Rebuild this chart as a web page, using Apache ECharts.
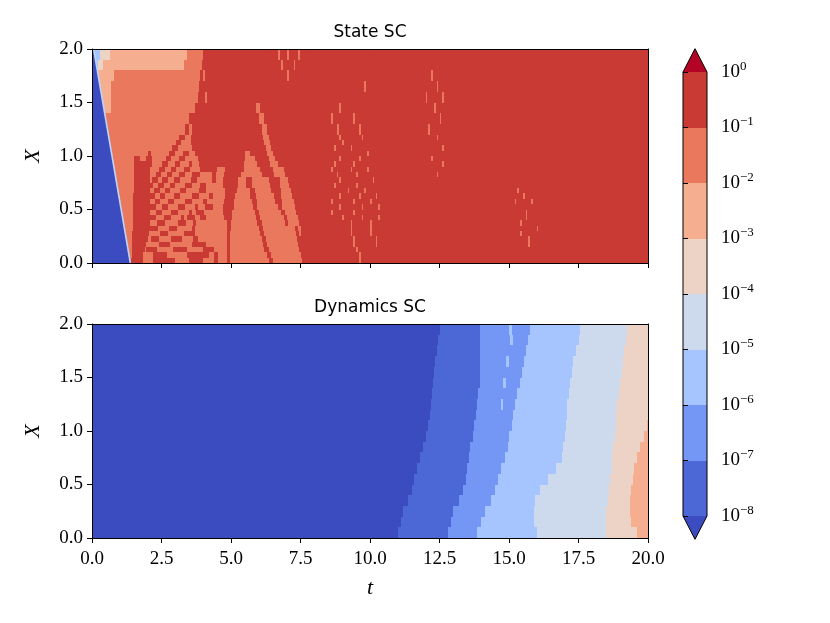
<!DOCTYPE html>
<html>
<head>
<meta charset="utf-8">
<script src="https://cdn.jsdelivr.net/npm/echarts@6/dist/echarts.min.js"></script>
<style>
  html, body { margin: 0; background: #fff; }
  #chart { width: 830px; height: 623px; }
</style>
</head>
<body>
<div id="chart"></div>
<script>
// contour level exponents (10^n) and the coolwarm band colours
// level index: 0 = below 1e-8 (extend), 1..8 = bands, 9 = above 1e0 (extend)
const levelExps = [-8, -7, -6, -5, -4, -3, -2, -1, 0];
const palette = ["#3b4cc0", "#4c67d6", "#7497f5", "#a6c4fe", "#cdd9ec",
                 "#ecd3c5", "#f5ae8f", "#e9785d", "#c93a35", "#b40426"];
const tTicks = [0, 2.5, 5, 7.5, 10, 12.5, 15, 17.5, 20];
const xTicks = [0, 0.5, 1, 1.5, 2];

// "State SC": left blue wedge, edge from (t, X) top point to bottom point
const stateUnderEdge = [0.06, 2.0, 1.38, 0.0];
// row edges in X (top to bottom); each row = list of [t where run ends, level]
const stateRowEdges = [2.0, 1.9, 1.8, 1.7, 1.6, 1.5, 1.4, 1.3, 1.2, 1.15, 1.1, 1.05, 1.0,
  0.95, 0.9, 0.85, 0.8, 0.75, 0.7, 0.65, 0.6, 0.55, 0.5, 0.45, 0.4, 0.35, 0.3,
  0.25, 0.2, 0.15, 0.1, 0.05, 0.0];
const stateRows = [
  [[0.3,3],[0.65,5],[3.4,6],[4.0,7],[6.7,8],[6.78,7],[7.0,8],[7.07,7],[7.4,8],[7.47,7],[20,8]],
  [[0.2,3],[0.4,5],[3.3,6],[3.95,7],[6.8,8],[6.87,7],[7.25,8],[7.32,7],[20,8]],
  [[0.8,6],[3.9,7],[4.0,8],[4.08,7],[7.0,8],[7.07,7],[12.2,8],[12.26,7],[20,8]],
  [[0.7,6],[3.85,7],[9.8,8],[9.86,7],[12.4,8],[12.46,7],[20,8]],
  [[0.7,6],[3.8,7],[4.05,8],[4.12,7],[12.0,8],[12.06,7],[12.6,8],[12.66,7],[20,8]],
  [[0.68,6],[3.7,7],[5.9,8],[6.05,7],[8.9,8],[8.96,7],[12.3,8],[12.36,7],[20,8]],
  [[3.5,7],[6.0,8],[6.2,7],[8.6,8],[8.67,7],[9.4,8],[9.46,7],[12.5,8],[12.56,7],[20,8]],
  [[3.35,7],[3.5,8],[3.6,7],[6.1,8],[6.3,7],[8.8,8],[8.87,7],[9.6,8],[9.66,7],[12.1,8],[12.16,7],[20,8]],
  [[3.13,7],[3.33,8],[3.55,7],[6.15,8],[6.35,7],[8.9,8],[8.96,7],[9.7,8],[9.76,7],[12.4,8],[12.46,7],[20,8]],
  [[3.01,7],[3.21,8],[3.55,7],[6.2,8],[6.4,7],[9.0,8],[9.06,7],[20,8]],
  [[2.89,7],[3.09,8],[3.6,7],[6.25,8],[6.45,7],[8.7,8],[8.76,7],[9.3,8],[9.36,7],[12.6,8],[12.66,7],[20,8]],
  [[2.0,7],[2.12,8],[2.77,7],[2.97,8],[3.28,7],[3.48,8],[3.7,7],[5.5,8],[5.7,7],[6.3,8],[6.5,7],[9.9,8],[9.96,7],[20,8]],
  [[1.5,7],[1.72,8],[1.95,7],[2.15,8],[2.65,7],[2.85,8],[3.13,7],[3.33,8],[3.8,7],[5.5,8],[5.85,7],[6.35,8],[6.6,7],[8.9,8],[8.96,7],[9.6,8],[9.66,7],[12.2,8],[12.26,7],[20,8]],
  [[1.5,7],[2.15,8],[2.53,7],[2.73,8],[2.98,7],[3.18,8],[3.5,7],[3.6,8],[3.85,7],[5.45,8],[5.95,7],[6.4,8],[6.7,7],[8.7,8],[8.76,7],[9.4,8],[9.46,7],[12.6,8],[12.66,7],[20,8]],
  [[1.5,7],[2.1,8],[2.41,7],[2.61,8],[2.83,7],[3.03,8],[3.31,7],[3.51,8],[3.9,7],[4.5,8],[4.8,7],[5.45,8],[6.05,7],[6.5,8],[6.9,7],[8.6,8],[8.66,7],[9.3,8],[9.36,7],[9.9,8],[9.96,7],[20,8]],
  [[1.5,7],[2.1,8],[2.29,7],[2.49,8],[2.68,7],[2.88,8],[3.14,7],[3.34,8],[3.6,7],[3.9,8],[4.3,7],[4.45,8],[4.75,7],[5.35,8],[6.1,7],[6.55,8],[6.95,7],[8.8,8],[8.86,7],[9.5,8],[9.56,7],[12.4,8],[12.46,7],[20,8]],
  [[1.5,7],[2.1,8],[2.17,7],[2.37,8],[2.53,7],[2.73,8],[2.96,7],[3.16,8],[3.57,7],[3.79,8],[4.3,7],[4.45,8],[4.7,7],[5.25,8],[5.55,7],[5.75,8],[6.35,7],[6.75,8],[7.05,7],[8.9,8],[8.96,7],[10.1,8],[10.16,7],[20,8]],
  [[1.5,7],[2.2,8],[2.38,7],[2.58,8],[2.79,7],[2.99,8],[3.36,7],[3.58,8],[3.9,7],[4.1,8],[4.7,7],[5.25,8],[5.55,7],[5.75,8],[6.4,7],[6.75,8],[7.1,7],[8.7,8],[8.76,7],[9.5,8],[9.56,7],[20,8]],
  [[1.5,7],[2.1,8],[2.23,7],[2.43,8],[2.61,7],[2.81,8],[3.15,7],[3.37,8],[3.85,7],[4.1,8],[4.8,7],[5.2,8],[5.7,7],[5.85,8],[6.45,7],[6.8,8],[7.15,7],[9.2,8],[9.26,7],[9.8,8],[9.86,7],[15.3,8],[15.36,7],[20,8]],
  [[1.49,7],[2.28,8],[2.44,7],[2.64,8],[2.94,7],[3.16,8],[3.6,7],[3.86,8],[4.2,7],[4.35,8],[4.8,7],[5.15,8],[5.7,7],[5.9,8],[6.55,7],[6.8,8],[7.2,7],[8.9,8],[8.96,7],[9.6,8],[9.66,7],[10.2,8],[10.26,7],[15.5,8],[15.56,7],[20,8]],
  [[1.49,7],[2.1,8],[2.26,7],[2.46,8],[2.73,7],[2.95,8],[3.36,7],[3.6,8],[4.0,7],[4.15,8],[4.75,7],[5.1,8],[5.75,7],[5.92,8],[6.6,7],[6.82,8],[7.25,7],[8.6,8],[8.66,7],[9.4,8],[9.46,7],[10.0,8],[10.06,7],[15.2,8],[15.26,7],[15.8,8],[15.86,7],[20,8]],
  [[1.48,7],[2.29,8],[2.52,7],[2.74,8],[3.1,7],[3.36,8],[3.7,7],[3.8,8],[4.06,7],[4.36,8],[4.7,7],[5.1,8],[5.8,7],[5.95,8],[6.7,7],[6.85,8],[7.3,7],[8.9,8],[8.96,7],[9.7,8],[9.76,7],[10.3,8],[10.36,7],[20,8]],
  [[1.48,7],[2.1,8],[2.31,7],[2.53,8],[2.85,7],[3.1,8],[3.5,7],[3.6,8],[3.74,7],[4.04,8],[4.7,7],[5.05,8],[5.85,7],[6.0,8],[6.8,7],[6.93,8],[7.35,7],[8.6,8],[8.66,7],[9.4,8],[9.46,7],[15.6,8],[15.66,7],[20,8]],
  [[1.47,7],[2.32,8],[2.6,7],[2.85,8],[3.2,7],[3.3,8],[3.41,7],[3.71,8],[3.9,7],[4.1,8],[4.75,7],[5.05,8],[5.9,7],[6.05,8],[6.9,7],[7.0,8],[7.4,7],[9.0,8],[9.06,7],[9.7,8],[9.76,7],[10.3,8],[10.36,7],[15.6,8],[15.66,7],[20,8]],
  [[1.46,7],[2.1,8],[2.35,7],[2.61,8],[3.09,7],[3.39,8],[3.65,7],[3.75,8],[4.85,7],[5.0,8],[5.95,7],[6.1,8],[6.95,7],[7.05,8],[7.45,7],[9.3,8],[9.36,7],[10.0,8],[10.06,7],[15.4,8],[15.46,7],[20,8]],
  [[1.46,7],[2.36,8],[2.76,7],[3.06,8],[3.6,7],[3.7,8],[4.85,7],[5.0,8],[6.0,7],[6.15,8],[7.3,7],[7.4,8],[7.5,7],[9.3,8],[9.36,7],[10.0,8],[10.06,7],[16.0,8],[16.06,7],[20,8]],
  [[1.45,7],[2.05,8],[2.44,7],[2.74,8],[3.3,7],[3.7,8],[4.85,7],[4.95,8],[6.05,7],[6.2,8],[7.35,7],[7.45,8],[7.52,7],[9.3,8],[9.36,7],[10.0,8],[10.06,7],[15.4,8],[15.46,7],[20,8]],
  [[1.45,7],[2.0,8],[2.11,7],[2.41,8],[2.85,7],[3.25,8],[3.65,7],[3.8,8],[4.85,7],[4.95,8],[6.1,7],[6.25,8],[7.38,7],[9.4,8],[9.46,7],[10.2,8],[10.26,7],[15.7,8],[15.76,7],[20,8]],
  [[1.45,7],[1.95,8],[2.4,7],[2.8,8],[3.6,7],[4.1,8],[4.85,7],[4.95,8],[6.15,7],[6.3,8],[7.4,7],[9.4,8],[9.46,7],[10.2,8],[10.26,7],[15.7,8],[15.76,7],[20,8]],
  [[1.45,7],[1.9,8],[1.95,7],[2.35,8],[2.9,7],[3.4,8],[4.0,7],[4.4,8],[4.85,7],[4.95,8],[6.2,7],[6.35,8],[7.45,7],[9.5,8],[9.56,7],[20,8]],
  [[1.45,7],[1.85,8],[2.2,7],[2.7,8],[3.4,7],[4.2,8],[4.4,7],[4.55,8],[4.85,7],[4.95,8],[6.3,7],[6.45,8],[7.5,7],[9.6,8],[9.66,7],[20,8]],
  [[1.42,7],[1.85,8],[2.2,7],[3.0,8],[3.5,7],[4.0,8],[4.4,7],[4.55,8],[4.85,7],[4.95,8],[6.35,7],[6.5,8],[7.55,7],[9.6,8],[9.66,7],[20,8]]
];

// "Dynamics SC", same layout
const dynamicsRowEdges = [2.0, 1.9, 1.8, 1.7, 1.6, 1.5, 1.4, 1.3, 1.2, 1.1, 1.0,
  0.9, 0.8, 0.7, 0.6, 0.5, 0.4, 0.3, 0.2, 0.1, 0.0];
const dynamicsRows = [
  [[12.5,0],[13.96,1],[15.0,2],[15.1,3],[15.75,2],[17.55,3],[19.25,4],[20,5]],
  [[12.45,0],[13.96,1],[15.05,2],[15.15,3],[15.7,2],[17.5,3],[19.2,4],[20,5]],
  [[12.4,0],[13.95,1],[15.6,2],[17.4,3],[19.15,4],[20,5]],
  [[12.35,0],[13.95,1],[14.9,2],[15.0,3],[15.55,2],[17.3,3],[19.1,4],[20,5]],
  [[12.3,0],[13.95,1],[15.45,2],[17.25,3],[19.05,4],[20,5]],
  [[12.25,0],[13.95,1],[14.8,2],[14.9,3],[15.4,2],[17.2,3],[19.0,4],[20,5]],
  [[12.22,0],[13.9,1],[15.3,2],[17.15,3],[18.95,4],[20,5]],
  [[12.2,0],[13.85,1],[14.7,2],[14.8,3],[15.2,2],[17.1,3],[18.9,4],[20,5]],
  [[12.16,0],[13.8,1],[15.15,2],[17.1,3],[18.85,4],[20,5]],
  [[12.1,0],[13.75,1],[15.1,2],[17.05,3],[18.85,4],[19.95,5],[20,6]],
  [[12.0,0],[13.7,1],[15.0,2],[17.0,3],[18.8,4],[19.85,5],[20,6]],
  [[11.9,0],[13.6,1],[14.95,2],[16.95,3],[18.75,4],[19.7,5],[20,6]],
  [[11.8,0],[13.55,1],[14.85,2],[16.9,3],[18.7,4],[19.6,5],[20,6]],
  [[11.7,0],[13.5,1],[14.7,2],[16.7,3],[18.7,4],[19.5,5],[20,6]],
  [[11.6,0],[13.45,1],[14.6,2],[16.4,3],[18.65,4],[19.45,5],[20,6]],
  [[11.5,0],[13.35,1],[14.5,2],[16.1,3],[18.6,4],[19.4,5],[20,6]],
  [[11.35,0],[13.2,1],[14.35,2],[15.95,3],[18.55,4],[19.35,5],[20,6]],
  [[11.2,0],[13.0,1],[14.15,2],[15.9,3],[18.5,4],[19.35,5],[20,6]],
  [[11.1,0],[12.9,1],[14.0,2],[15.9,3],[18.5,4],[19.4,5],[20,6]],
  [[11.0,0],[12.8,1],[13.85,2],[16.0,3],[18.5,4],[19.6,5],[20,6]]
];

const CB_EXT = 0.42; // length of the colorbar end triangles, in decades
const serif = '"Liberation Serif", "DejaVu Serif", serif';

// runs -> [t0, t1, xLo, xHi, level]
function toCells(rows, edges) {
  const cells = [];
  rows.forEach((runs, i) => {
    let t0 = 0;
    runs.forEach(([t1, lvl]) => {
      cells.push([t0, t1, edges[i + 1], edges[i], lvl]);
      t0 = t1;
    });
  });
  return cells;
}

function renderCell(params, api) {
  const a = api.coord([api.value(0), api.value(3)]);
  const b = api.coord([api.value(1), api.value(2)]);
  const x0 = Math.round(a[0]), x1 = Math.round(b[0]);
  const y0 = Math.round(a[1]), y1 = Math.round(b[1]);
  return {
    type: "rect",
    shape: { x: x0, y: y0, width: x1 - x0, height: y1 - y0 },
    style: { fill: palette[api.value(4)] },
  };
}

function renderUnder(params, api) {
  const top = api.coord([api.value(0), api.value(1)]);
  const bot = api.coord([api.value(2), api.value(3)]);
  const tl = api.coord([tTicks[0], api.value(1)]);
  const bl = api.coord([tTicks[0], api.value(3)]);
  return {
    type: "group",
    children: [
      { type: "polygon", shape: { points: [tl, top, bot, bl] }, style: { fill: palette[0] } },
      { type: "line", shape: { x1: top[0], y1: top[1], x2: bot[0], y2: bot[1] },
        style: { stroke: "#bed3f6", lineWidth: 1.6 } },
    ],
  };
}

// colorbar bands: [lowExp, highExp, level]
const cbBands = [[levelExps[0] - CB_EXT, levelExps[0], 0]];
for (let i = 0; i < levelExps.length - 1; i++) {
  cbBands.push([levelExps[i], levelExps[i + 1], i + 1]);
}
cbBands.push([levelExps[levelExps.length - 1], levelExps[levelExps.length - 1] + CB_EXT, 9]);

function renderBand(params, api) {
  const lo = api.value(0), hi = api.value(1), lvl = api.value(2);
  const fill = palette[lvl];
  if (lvl === 0) {
    return { type: "polygon", shape: { points: [api.coord([0, hi]), api.coord([1, hi]), api.coord([0.5, lo])] }, style: { fill } };
  }
  if (lvl === 9) {
    return { type: "polygon", shape: { points: [api.coord([0, lo]), api.coord([1, lo]), api.coord([0.5, hi])] }, style: { fill } };
  }
  const a = api.coord([0, hi]), b = api.coord([1, lo]);
  return {
    type: "rect",
    shape: { x: a[0], y: Math.round(a[1]), width: b[0] - a[0], height: Math.round(b[1]) - Math.round(a[1]) },
    style: { fill },
  };
}

function renderOutline(params, api) {
  const lo = levelExps[0], hi = levelExps[levelExps.length - 1];
  return {
    type: "polygon",
    shape: { points: [api.coord([0, lo]), api.coord([0.5, lo - CB_EXT]), api.coord([1, lo]),
                      api.coord([1, hi]), api.coord([0.5, hi + CB_EXT]), api.coord([0, hi])] },
    style: { fill: null, stroke: "#000", lineWidth: 1 },
  };
}

const frameLine = { show: true, onZero: false, lineStyle: { color: "#000", width: 1 } };
const tickStyle = { show: true, inside: false, length: 5, lineStyle: { color: "#000", width: 1 } };

function tAxis(gridIndex, position, withLabels) {
  return {
    type: "value", gridIndex, position, min: tTicks[0], max: tTicks[tTicks.length - 1],
    interval: tTicks[1] - tTicks[0], z: 10,
    axisLine: frameLine,
    axisTick: position === "bottom" ? tickStyle : { show: false },
    axisLabel: { show: withLabels, margin: 12, color: "#000", fontFamily: serif, fontSize: 19,
                 formatter: (v) => v.toFixed(1) },
    splitLine: { show: false },
  };
}
function xAxisY(gridIndex, position) {
  return {
    type: "value", gridIndex, position, min: xTicks[0], max: xTicks[xTicks.length - 1],
    interval: xTicks[1] - xTicks[0], z: 10,
    axisLine: frameLine,
    axisTick: position === "left" ? tickStyle : { show: false },
    axisLabel: { show: position === "left", margin: 9, color: "#000", fontFamily: serif, fontSize: 19,
                 formatter: (v) => v.toFixed(1) },
    splitLine: { show: false },
  };
}

const chart = echarts.init(document.getElementById("chart"));
chart.setOption({
  animation: false,
  backgroundColor: "#fff",
  grid: [
    { left: 92, top: 49, width: 556, height: 214 },
    { left: 92, top: 324, width: 556, height: 214 },
    { left: 683, top: 72, width: 24, height: 444 },
  ],
  xAxis: [
    tAxis(0, "bottom", false),
    tAxis(0, "top", false),
    tAxis(1, "bottom", true),
    tAxis(1, "top", false),
    { type: "value", gridIndex: 2, min: 0, max: 1, show: false },
  ],
  yAxis: [
    xAxisY(0, "left"),
    xAxisY(0, "right"),
    xAxisY(1, "left"),
    xAxisY(1, "right"),
    {
      type: "value", gridIndex: 2, position: "right", min: levelExps[0], max: levelExps[levelExps.length - 1],
      interval: 1, z: 10,
      axisLine: { show: false },
      axisTick: tickStyle,
      splitLine: { show: false },
      axisLabel: {
        margin: 14, color: "#000",
        formatter: (v) => "{b|10}{s|" + (v === 0 ? "0" : "\u2212" + (-v)) + "}",
        rich: {
          b: { fontFamily: serif, fontSize: 19, color: "#000", lineHeight: 24 },
          s: { fontFamily: serif, fontSize: 13, color: "#000", verticalAlign: "top", lineHeight: 14 },
        },
      },
    },
  ],
  series: [
    { type: "custom", xAxisIndex: 0, yAxisIndex: 0, renderItem: renderCell,
      data: toCells(stateRows, stateRowEdges), encode: { x: [0, 1], y: [2, 3] }, silent: true },
    { type: "custom", xAxisIndex: 0, yAxisIndex: 0, renderItem: renderUnder,
      data: [stateUnderEdge], encode: { x: [0, 2], y: [1, 3] }, silent: true, z: 3 },
    { type: "custom", xAxisIndex: 2, yAxisIndex: 2, renderItem: renderCell,
      data: toCells(dynamicsRows, dynamicsRowEdges), encode: { x: [0, 1], y: [2, 3] }, silent: true },
    { type: "custom", xAxisIndex: 4, yAxisIndex: 4, renderItem: renderBand, data: cbBands,
      encode: { y: [0, 1] }, silent: true, clip: false },
    { type: "custom", xAxisIndex: 4, yAxisIndex: 4, renderItem: renderOutline, data: [[0]],
      silent: true, clip: false, z: 5 },
  ],
  graphic: [
    { type: "text", x: 370, y: 33, style: { text: "State SC", font: '17px "DejaVu Sans"', fill: "#000", textAlign: "center", textVerticalAlign: "middle" } },
    { type: "text", x: 370, y: 308, style: { text: "Dynamics SC", font: '17px "DejaVu Sans"', fill: "#000", textAlign: "center", textVerticalAlign: "middle" } },
    { type: "text", x: 33, y: 156, rotation: Math.PI / 2, style: { text: "X", font: 'italic 22px "Liberation Serif"', fill: "#000", textAlign: "center", textVerticalAlign: "middle" } },
    { type: "text", x: 33, y: 431, rotation: Math.PI / 2, style: { text: "X", font: 'italic 22px "Liberation Serif"', fill: "#000", textAlign: "center", textVerticalAlign: "middle" } },
    { type: "text", x: 370, y: 588, style: { text: "t", font: 'italic 22px "Liberation Serif"', fill: "#000", textAlign: "center", textVerticalAlign: "middle" } },
  ],
});
</script>
</body>
</html>
